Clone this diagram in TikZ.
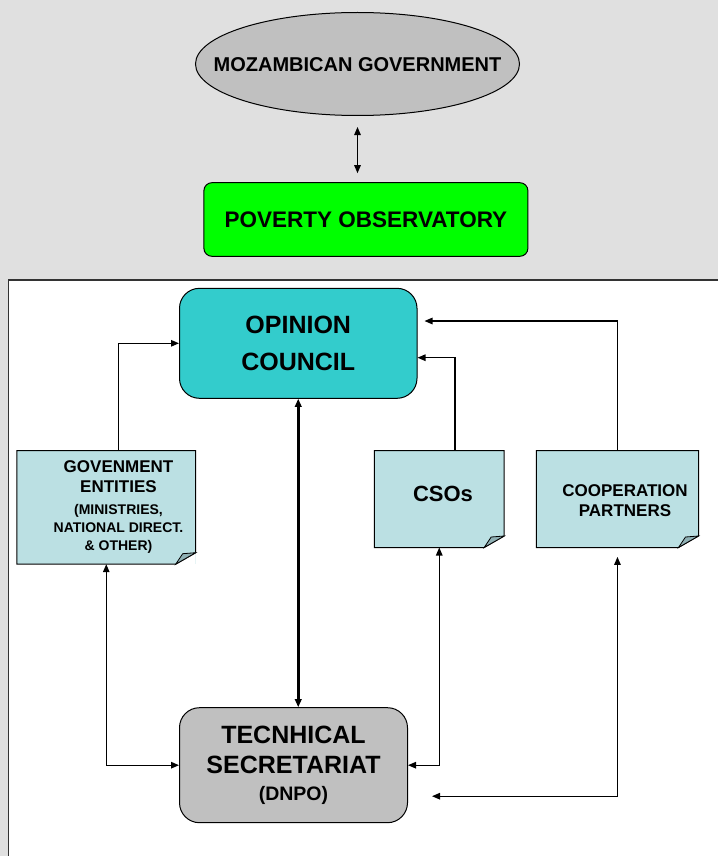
\documentclass[tikz,border=0pt]{standalone}
\usepackage{fontspec}
\setmainfont{Liberation Sans}
\usetikzlibrary{arrows.meta,shapes.geometric}

\definecolor{bggray}{HTML}{E0E0E0}
\definecolor{boxgray}{HTML}{C0C0C0}
\definecolor{obsgreen}{HTML}{00FF00}
\definecolor{councilcyan}{HTML}{33CCCC}
\definecolor{notecyan}{HTML}{BBE0E3}
\definecolor{flapcyan}{HTML}{8FB0B4}

\tikzset{
  roundbox/.style={draw, rounded corners=#1, line width=1pt, inner sep=0pt,
    font=\bfseries, align=center},
  notebox/.style={fill=notecyan, inner sep=0pt},
  lbl/.style={align=center, inner sep=0pt},
  link/.style={line width=1.3pt},
}

\newcommand{\fs}[2]{\fontsize{#1}{#2}\selectfont}

\begin{document}
\begin{tikzpicture}[x=1pt, y=-1pt, >={Triangle[length=8pt,width=6.5pt]}]
\useasboundingbox (0,0) rectangle (718,856);
\fill [bggray] (0,0) rectangle (718,856);
\fill [white] (8.5,280) rectangle (718,856);
\draw [line width=1.6pt, black!80] (8.5,856) -- (8.5,280) -- (718,280);

% upper part
\node (mozgov) [ellipse, draw, line width=1pt, fill=boxgray, minimum width=324pt,
  minimum height=103pt, inner sep=0pt] at (357.5,64) {};
\node (mozlbl) [lbl, font=\bfseries\fs{20}{24}] at (357.5,65) {MOZAMBICAN GOVERNMENT};
\node (povobs) [roundbox=8pt, fill=obsgreen, minimum width=324pt, minimum height=73.6pt,
  font=\bfseries\fs{22.5}{26}] at (365.9,219.5) {POVERTY OBSERVATORY};
\draw [<->, link, shorten <=11pt, shorten >=9pt] (mozgov.south) -- (mozgov.south |- povobs.north);

% main boxes
\node (council) [roundbox=20pt, fill=councilcyan, minimum width=237.5pt, minimum height=110pt,
  font=\bfseries\fs{25}{37}] at (298.25,343.3) {OPINION\\COUNCIL};
\node (tech) [roundbox=20pt, fill=boxgray, minimum width=228pt, minimum height=115pt,
  font=\bfseries\fs{25}{30.5}] at (293.5,765.2)
  {TECNHICAL\\SECRETARIAT\\[-4pt]{\fs{19.5}{24}(DNPO)}};

% notes
\node (gov) [notebox, minimum width=178.5pt, minimum height=113.3pt] at (106.25,507.35) {};
\node (cso) [notebox, minimum width=129.5pt, minimum height=96.6pt] at (439.25,499) {};
\node (coop) [notebox, minimum width=161.7pt, minimum height=96.6pt] at (617.45,499) {};
\foreach \n in {gov,cso,coop} {
  \fill [white] ([xshift=-20pt]\n.south east) -- (\n.south east) -- ([yshift=11.5pt]\n.south east) -- cycle;
  \draw [line width=1pt] (\n.south west) -- (\n.north west) -- (\n.north east)
    -- ([yshift=11.5pt]\n.south east) -- ([xshift=-20pt]\n.south east) -- cycle;
  \draw [fill=flapcyan, line width=0.8pt] ([xshift=-20pt]\n.south east)
    -- ([xshift=-13pt,yshift=10.5pt]\n.south east) -- ([yshift=11.5pt]\n.south east) -- cycle;
}
\node (govlbl) [lbl, font=\bfseries\fs{17}{20.5}] at (118.5,507)
  {GOVENMENT\\ENTITIES\\[1pt]{\fs{14}{17}(MINISTRIES,}\\[-2.5pt]
   {\fs{14}{17}NATIONAL DIRECT.}\\[-2.5pt]{\fs{14}{17}\& OTHER)}};
\node (csolbl) [lbl, font=\bfseries\fs{22}{26}] at (443,494) {CSOs};
\node (cooplbl) [lbl, font=\bfseries\fs{17}{20}] at (625,501) {COOPERATION\\PARTNERS};

% connectors
\draw [->, link] ([xshift=12.4pt]gov.north) |- (council.west);
\draw [->, link] ([xshift=15.8pt]cso.north) |- ([yshift=-14.4pt]council.east);
\draw [->, link, shorten >=7pt] (coop.north) |- ([yshift=22.3pt]council.east);
\draw [<->, line width=3pt] (council.south) -- (council.south |- tech.north);
\draw [<->, link] (gov.south) |- (tech.west);
\draw [<->, link] (cso.south) |- (tech.east);
\draw [<->, link, shorten <=9.4pt, shorten >=24pt] (coop.south) |- ([yshift=-31pt]tech.east);

\end{tikzpicture}
\end{document}
